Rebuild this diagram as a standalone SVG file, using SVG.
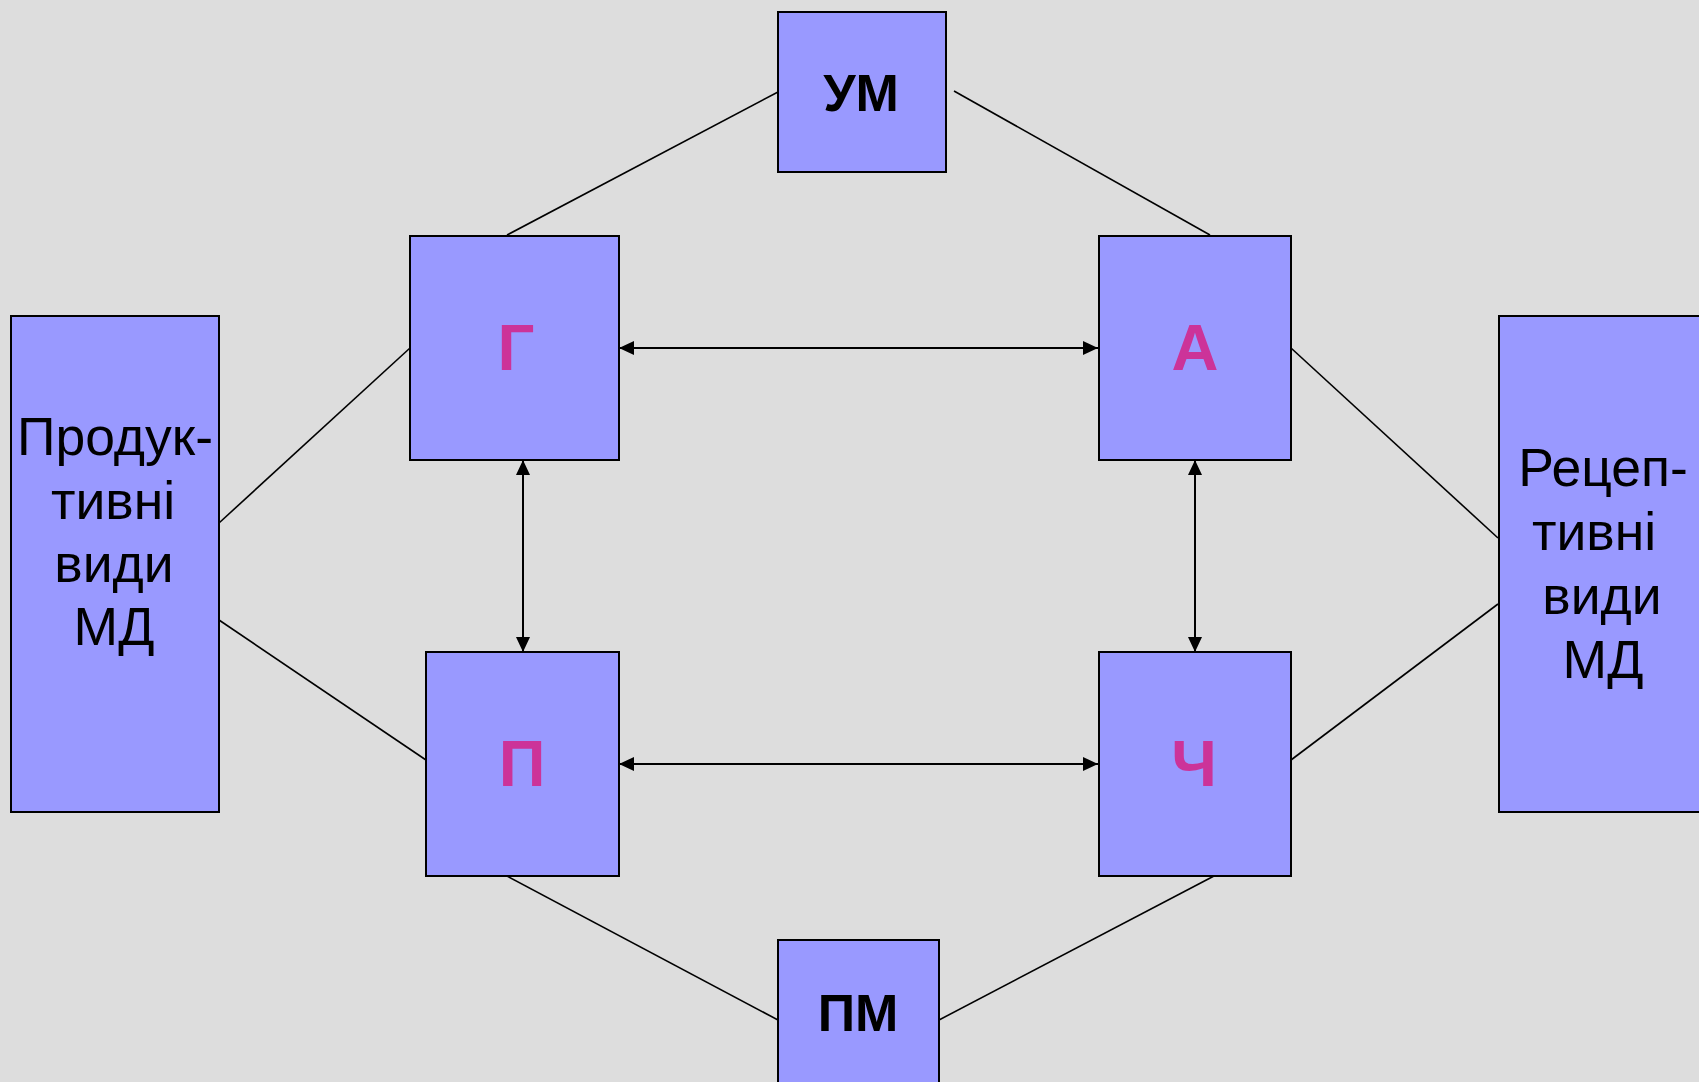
<svg xmlns="http://www.w3.org/2000/svg" width="1699" height="1082" viewBox="0 0 1699 1082">
<defs>
<style>
.box{fill:#9999FF;stroke:#000;stroke-width:2}
.ln{stroke:#000;stroke-width:1.6;fill:none}
.ar{stroke:#000;stroke-width:2;fill:none;marker-start:url(#ah);marker-end:url(#ah)}
.t{font-family:"Liberation Sans",Arial,sans-serif;text-anchor:middle;fill:#000}
.big{font-size:53.5px}
.bold{font-size:52px;font-weight:bold}
.mag{font-size:65px;font-weight:bold;fill:#CC3399}
</style>
<marker id="ah" viewBox="0 0 15 14" refX="15" refY="7" markerWidth="15" markerHeight="14" markerUnits="userSpaceOnUse" orient="auto-start-reverse">
<path d="M0,0 L15,7 L0,14 Z" fill="#000"/>
</marker>
</defs>
<rect width="1699" height="1082" fill="#DDDDDD"/>
<g id="connectors">
<line class="ln" x1="778" y1="92" x2="507" y2="235"/>
<line class="ln" x1="954" y1="91" x2="1210" y2="235"/>
<line class="ln" x1="219" y1="523" x2="410" y2="348"/>
<line class="ln" x1="219" y1="620" x2="426" y2="760"/>
<line class="ln" x1="1291" y1="348" x2="1498" y2="538"/>
<line class="ln" x1="1291" y1="760" x2="1498" y2="604"/>
<line class="ln" x1="507" y1="876" x2="778" y2="1020"/>
<line class="ln" x1="1214" y1="876" x2="939" y2="1020"/>
<line class="ar" x1="619" y1="348" x2="1098" y2="348"/>
<line class="ar" x1="619" y1="764" x2="1098" y2="764"/>
<line class="ar" x1="523" y1="460" x2="523" y2="652"/>
<line class="ar" x1="1195" y1="460" x2="1195" y2="652"/>
</g>
<g id="um">
<rect class="box" x="778" y="12" width="168" height="160"/>
<text class="t bold" x="861" y="111">УМ</text>
</g>
<g id="pm">
<rect class="box" x="778" y="940" width="161" height="150"/>
<text class="t bold" x="858" y="1031">ПМ</text>
</g>
<g id="g">
<rect class="box" x="410" y="236" width="209" height="224"/>
<text class="t mag" x="516" y="370">Г</text>
</g>
<g id="a">
<rect class="box" x="1099" y="236" width="192" height="224"/>
<text class="t mag" x="1195" y="370">А</text>
</g>
<g id="p">
<rect class="box" x="426" y="652" width="193" height="224"/>
<text class="t mag" x="522" y="786">П</text>
</g>
<g id="ch">
<rect class="box" x="1099" y="652" width="192" height="224"/>
<text class="t mag" x="1194" y="786">Ч</text>
</g>
<g id="productive">
<rect class="box" x="11" y="316" width="208" height="496"/>
<text class="t big" x="115" y="455">Продук-</text>
<text class="t big" x="113" y="519">тивні</text>
<text class="t big" x="114" y="582">види</text>
<text class="t big" x="114" y="645">МД</text>
</g>
<g id="receptive">
<rect class="box" x="1499" y="316" width="210" height="496"/>
<text class="t big" x="1603" y="486">Рецеп-</text>
<text class="t big" x="1594" y="550">тивні</text>
<text class="t big" x="1602" y="614">види</text>
<text class="t big" x="1603" y="678">МД</text>
</g>
</svg>
